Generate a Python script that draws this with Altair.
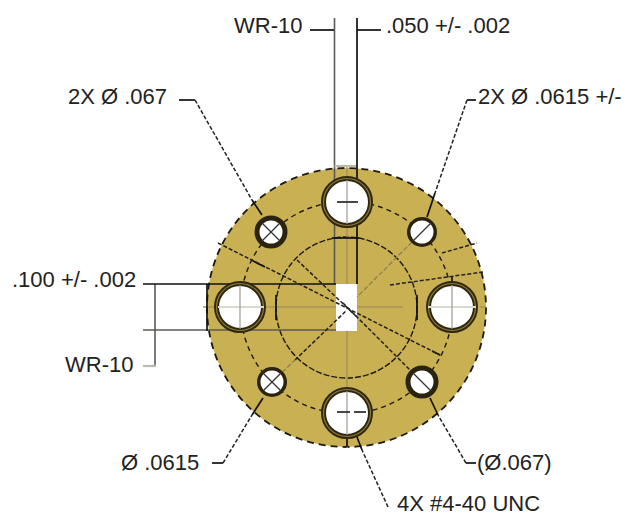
import altair as alt
import pandas as pd

# Geometry (reference pixel units)
disc_x = [346.5]
disc_y = [307.5]
big_hole_x = [347, 347, 240, 452]
big_hole_y = [202, 413, 307, 307]
wide_hole_x = [271, 422]
wide_hole_y = [232, 382]
narrow_hole_x = [422, 272]
narrow_hole_y = [232, 382]

solid_black = [
    (357, 18, 357, 284), (310, 30, 334, 30), (357, 30, 381, 30),
    (143, 284, 336, 284), (179, 100, 195, 100), (467, 100, 476, 100),
    (212, 463, 223, 463), (466, 463, 476, 463),
    (252, 200, 262, 215), (435, 193, 427, 217), (252, 415, 263, 398),
    (438, 415, 430, 398), (362, 450, 357, 437),
    (276, 295, 276, 320), (417, 295, 417, 320), (332, 238, 359, 238),
    (253, 261, 265, 267), (432, 351, 440, 355),
    (207, 284, 207, 331), (240, 283, 240, 288), (347, 447, 347, 437), (452, 283, 452, 277),
]
solid_gray = [
    (334.5, 18, 334.5, 284), (143, 330, 336, 330), (155, 284, 155, 366),
]
light_gray = [(143, 366, 156, 366), (334.5, 166, 357, 166)]
center_tan = [
    (203, 307, 403, 307), (347, 166, 347, 448), (480, 307, 486, 307),
]
hole_center = [(240, 285, 240, 329), (452, 285, 452, 329), (347, 180, 347, 224), (347, 391, 347, 435)]
hole_pale = [(218, 307, 264, 307), (428, 307, 476, 307)]
hole_dark = [(337, 202, 358, 202), (337, 412, 350, 412), (354, 412, 366, 412)]
leader_dash = [
    (195, 100, 252, 200), (467, 100, 435, 193), (223, 463, 252, 415),
    (466, 463, 438, 415), (388, 507, 362, 450),
    (218, 243, 440, 355), (297, 260, 357, 317), (295, 360, 347, 310),
    (422, 382, 343, 303), (390, 285, 483, 272), (442, 253, 477, 243),
]
leader_gray = [(272, 382, 295, 360), (422, 232, 357, 297)]
hole_cross = [
    (262, 223, 280, 241), (262, 241, 280, 223), (413, 241, 431, 223),
    (263, 373, 281, 391), (263, 391, 281, 373), (413, 373, 431, 391),
]
labels = [
    "WR-10", ".050 +/- .002", "2X Ø .067", "2X Ø .0615 +/-", ".100 +/- .002",
    "WR-10", "Ø .0615", "(Ø.067)", "4X #4-40 UNC",
]
label_x = [234, 386, 68, 478, 12, 65, 121, 477, 397]
label_y = [33, 33, 104, 104, 287, 372, 470, 470, 511]

GOLD = "#c9b052"
INK = "#1c1a12"
sx = alt.Scale(domain=[8, 622], range=[0, 614], nice=False, zero=False)
sy = alt.Scale(domain=[8, 517], range=[0, 509], nice=False, zero=False)
X = alt.X("x:Q", scale=sx, axis=None)
Y = alt.Y("y:Q", scale=sy, axis=None)


def rules(segments, color, width, dash=None):
    df = pd.DataFrame(segments, columns=["x", "y", "x2", "y2"])
    kw = {"color": color, "strokeWidth": width}
    if dash:
        kw["strokeDash"] = dash
    return alt.Chart(df).mark_rule(**kw).encode(
        x=X, y=Y, x2="x2:Q", y2="y2:Q"
    )


def circles(xs, ys, diameter, fill, stroke, width, dash=None):
    df = pd.DataFrame({"x": xs, "y": ys})
    kw = {"shape": "circle", "size": diameter ** 2, "opacity": 1,
          "strokeWidth": width, "stroke": stroke}
    if fill:
        kw["filled"] = True
        kw["fill"] = fill
    else:
        kw["filled"] = False
        kw["fillOpacity"] = 0
    if dash:
        kw["strokeDash"] = dash
    return alt.Chart(df).mark_point(**kw).encode(x=X, y=Y)


slot = alt.Chart(pd.DataFrame({"x": [336], "x2": [357], "y": [284], "y2": [331]})).mark_rect(
    color="#ffffff"
).encode(x=X, y=Y, x2="x2:Q", y2="y2:Q")

text = alt.Chart(pd.DataFrame({"x": label_x, "y": label_y, "t": labels})).mark_text(
    align="left", baseline="alphabetic", font="Liberation Sans", fontSize=22, color="#222222"
).encode(x=X, y=Y, text="t:N")

chart = alt.layer(
    circles(disc_x, disc_y, 279, GOLD, INK, 1.8, [7, 5]),
    circles(disc_x, disc_y, 212, None, INK, 1.4, [5, 4]),
    circles(disc_x, disc_y, 141, None, INK, 1.4, [6, 2]),
    rules(center_tan, "#a8935a", 1.5),
    rules(solid_gray, "#5a5a55", 1.6),
    rules(light_gray, "#b9b9b0", 2.2),
    slot,
    rules(solid_black, "#111111", 1.7),
    rules(leader_dash, "#222222", 1.5, [4, 2]),
    rules(leader_gray, "#8a8050", 1.3, [5, 2]),
    circles(big_hole_x, big_hole_y, 47, "#ffffff", "#30280e", 5),
    circles(big_hole_x, big_hole_y, 47, None, "#8d7a3c", 1.2),
    circles(wide_hole_x, wide_hole_y, 28, "#ffffff", "#2a240e", 5),
    circles(narrow_hole_x, narrow_hole_y, 26.5, "#ffffff", "#2a240e", 3.5),
    rules(hole_pale, "#d6dbd0", 2),
    rules(hole_center, "#9c9c92", 1.2),
    rules(hole_dark, "#333333", 1.8),
    rules(hole_cross, "#333333", 1.2),
    text,
).properties(
    width=614, height=509, padding=0,
    autosize=alt.AutoSizeParams(type="none"),
).configure_view(stroke=None)

chart.save("out.html", embed_options={"renderer": "svg", "actions": False})
